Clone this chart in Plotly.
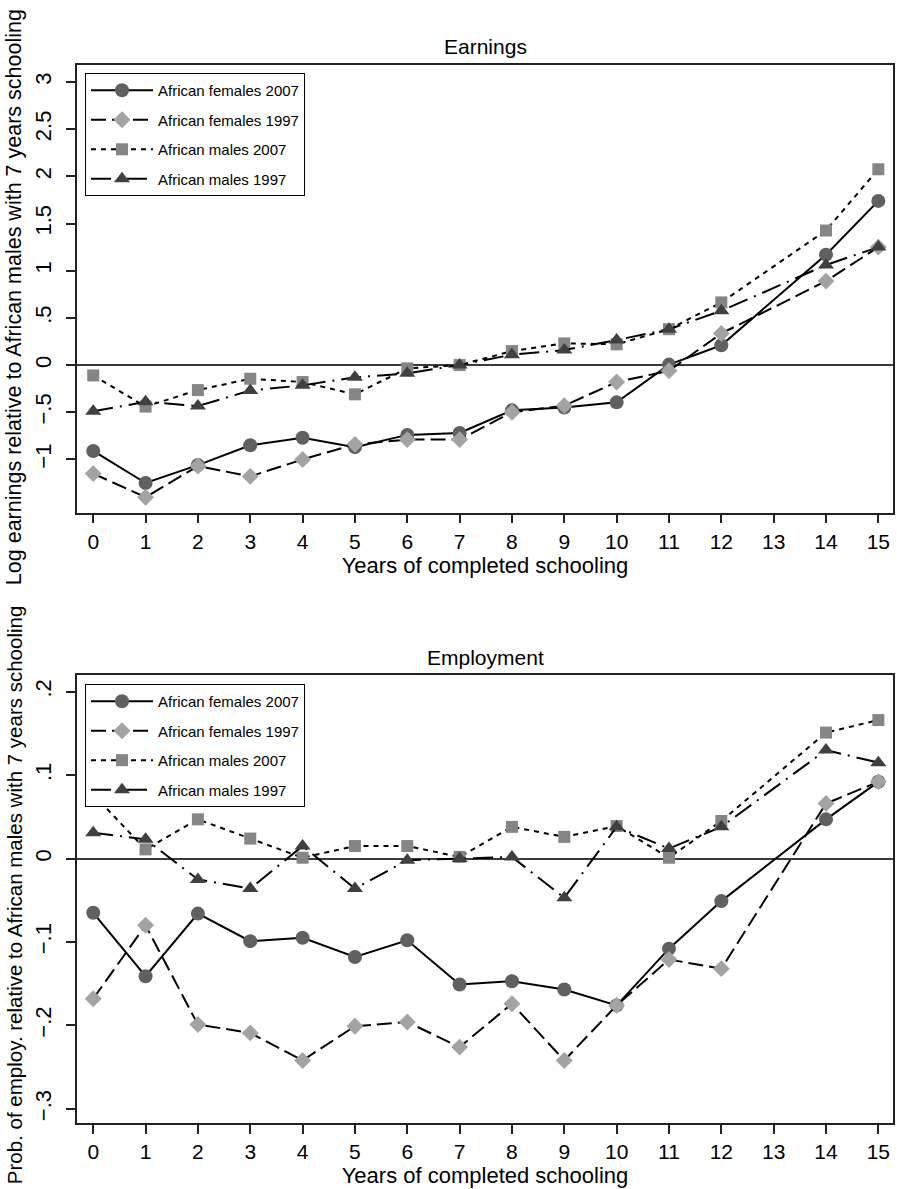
import plotly.graph_objects as go

# Years of completed schooling (no observations at 13 years)
years = [0, 1, 2, 3, 4, 5, 6, 7, 8, 9, 10, 11, 12, 14, 15]

# Log earnings relative to African males with 7 years schooling
earn_f07 = [-0.91, -1.25, -1.06, -0.85, -0.77, -0.87, -0.74, -0.72, -0.48, -0.45, -0.395, 0.005, 0.21, 1.17, 1.74]
earn_f97 = [-1.15, -1.40, -1.07, -1.18, -1.00, -0.84, -0.79, -0.79, -0.50, -0.43, -0.18, -0.06, 0.335, 0.89, 1.25]
earn_m07 = [-0.11, -0.44, -0.265, -0.145, -0.18, -0.31, -0.035, 0.0, 0.148, 0.23, 0.22, 0.38, 0.664, 1.427, 2.076]
earn_m97 = [-0.49, -0.39, -0.434, -0.27, -0.215, -0.13, -0.088, 0.0, 0.11, 0.159, 0.265, 0.38, 0.575, 1.06, 1.25]

# Probability of employment relative to African males with 7 years schooling
emp_f07 = [-0.065, -0.141, -0.066, -0.099, -0.095, -0.118, -0.098, -0.151, -0.147, -0.157, -0.176, -0.108, -0.051, 0.047, 0.092]
emp_f97 = [-0.168, -0.080, -0.199, -0.209, -0.242, -0.201, -0.196, -0.226, -0.174, -0.242, -0.176, -0.121, -0.132, 0.066, 0.092]
emp_m07 = [0.077, 0.011, 0.047, 0.024, 0.001, 0.015, 0.015, 0.002, 0.038, 0.026, 0.039, 0.001, 0.045, 0.151, 0.166]
emp_m97 = [0.031, 0.023, -0.025, -0.036, 0.015, -0.036, -0.002, 0.0, 0.002, -0.047, 0.038, 0.012, 0.038, 0.130, 0.115]

series_names = ["African females 2007", "African females 1997", "African males 2007", "African males 1997"]

x_ticks = list(range(16))
earn_ticks = [-1, -0.5, 0, 0.5, 1, 1.5, 2, 2.5, 3]
earn_ticktext = ["\u22121", "\u2212.5", "0", ".5", "1", "1.5", "2", "2.5", "3"]
emp_ticks = [-0.3, -0.2, -0.1, 0, 0.1, 0.2]
emp_ticktext = ["\u2212.3", "\u2212.2", "\u2212.1", "0", ".1", ".2"]

earn_ytitle = "Log earnings relative to African males with 7 years schooling"
emp_ytitle = "Prob. of employ. relative to African males with 7 years schooling"

FONT = "Liberation Sans, Arial, Helvetica, sans-serif"
W, H = 897, 1189
M = dict(l=77, r=2, t=65, b=66)
PH = H - M["t"] - M["b"]

styles = [
    dict(symbol="circle", size=14, color="#606060", dash="solid"),
    dict(symbol="diamond", size=13, color="#a3a3a3", dash="15px,6px"),
    dict(symbol="square", size=12, color="#858585", dash="5px,5px"),
    dict(symbol="triangle-up", size=14, color="#404040", dash="20px,7px,2px,7px"),
]

fig = go.Figure()


def add_panel(values, xa, ya, legend):
    for name, ys, st in zip(series_names, values, styles):
        fig.add_trace(go.Scatter(
            x=years, y=ys, name=name, mode="lines+markers",
            xaxis=xa, yaxis=ya, legend=legend, legendgroup=legend + name,
            line=dict(color="black", width=2, dash=st["dash"]),
            marker=dict(symbol=st["symbol"], size=st["size"], color=st["color"],
                        line=dict(width=0)),
        ))


add_panel([earn_f07, earn_f97, earn_m07, earn_m97], "x", "y", "legend")
add_panel([emp_f07, emp_f97, emp_m07, emp_m97], "x2", "y2", "legend2")

axis_common = dict(
    showline=True, linecolor="#222", linewidth=1.5, mirror=True,
    ticks="outside", ticklen=9, tickwidth=1.5, tickcolor="#222",
    showgrid=False, tickfont=dict(family=FONT, size=21, color="black"),
)

xa = dict(axis_common, range=[-0.31, 15.28], tickvals=x_ticks, zeroline=False,
          title=dict(text="Years of completed schooling", standoff=4,
                     font=dict(family=FONT, size=22, color="black")))

ya_common = dict(axis_common, tickangle=-90, zeroline=True, zerolinecolor="#3a3a3a",
                 zerolinewidth=1.5, ticklabelstandoff=6)
ya_common["tickfont"] = dict(family=FONT, size=22, color="black")

legend_common = dict(
    bgcolor="white", bordercolor="black", borderwidth=1,
    font=dict(family=FONT, size=15, color="black"),
    itemwidth=62, tracegroupgap=7, xanchor="left", yanchor="top", x=0.0098,
    itemclick=False,
)


def paper_y(px):
    # convert a pixel row (from the top of the page) to paper coordinates
    return 1 - (px - M["t"]) / PH


fig.update_layout(
    width=W, height=H,
    margin=M,
    paper_bgcolor="white", plot_bgcolor="white",
    font=dict(family=FONT, color="black"),
    xaxis=dict(xa, domain=[0, 1], anchor="y"),
    yaxis=dict(ya_common, domain=[0.5768, 1], anchor="x", range=[-1.565, 3.18],
               tickvals=earn_ticks, ticktext=earn_ticktext),
    xaxis2=dict(xa, domain=[0, 1], anchor="y2"),
    yaxis2=dict(ya_common, domain=[0, 0.4234], anchor="x2", range=[-0.317, 0.22],
                tickvals=emp_ticks, ticktext=emp_ticktext),
    legend=dict(legend_common, y=0.9924),
    legend2=dict(legend_common, y=0.415),
    showlegend=True,
    annotations=[
        dict(text="Earnings", xref="paper", yref="paper", x=0.5, y=1, yanchor="middle",
             yshift=19, showarrow=False, font=dict(family=FONT, size=21, color="black")),
        dict(text="Employment", xref="paper", yref="paper", x=0.5, y=0.4234, yanchor="middle",
             yshift=18, showarrow=False, font=dict(family=FONT, size=21, color="black")),
        dict(text=earn_ytitle, textangle=-90, xref="paper", yref="paper",
             x=-(M["l"] - 14) / (W - M["l"] - M["r"]), y=paper_y(297),
             xanchor="center", yanchor="middle", showarrow=False,
             font=dict(family=FONT, size=21.5, color="black")),
        dict(text=emp_ytitle, textangle=-90, xref="paper", yref="paper",
             x=-(M["l"] - 14) / (W - M["l"] - M["r"]), y=paper_y(895),
             xanchor="center", yanchor="middle", showarrow=False,
             font=dict(family=FONT, size=20.5, color="black")),
    ],
)

fig.write_html("out.html")
